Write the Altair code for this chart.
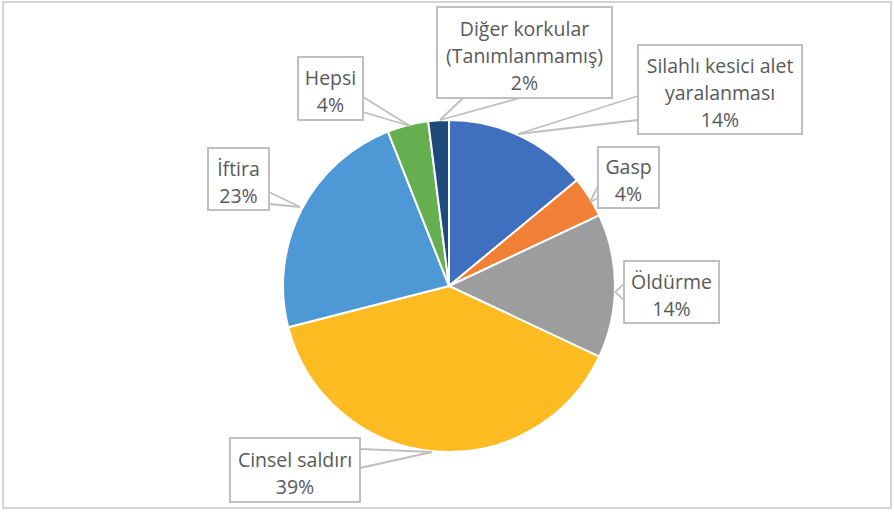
import altair as alt
import pandas as pd

# ---- data ----
categories = ["Silahlı kesici alet yaralanması", "Gasp", "Öldürme", "Cinsel saldırı",
              "İftira", "Hepsi", "Diğer korkular (Tanımlanmamış)"]
label_text = ["Silahlı kesici alet\nyaralanması", "Gasp", "Öldürme", "Cinsel saldırı",
              "İftira", "Hepsi", "Diğer korkular\n(Tanımlanmamış)"]
values = [14, 4, 14, 39, 23, 4, 2]
colors = ["#3F6FBF", "#F27F36", "#9B9D9F", "#FDBB22", "#4E98D6", "#65AF51", "#1E4A7C"]

# ---- layout of callout boxes (pixels) ----
box_left = [638, 598, 624, 230, 208, 298, 437]
box_top = [45, 147, 261, 438, 148, 57, 7]
box_right = [802, 659, 719, 360, 269, 363, 612]
box_bottom = [134, 208, 323, 502, 210, 120, 98]
tail_a = [(638, 96), (598, 186), (624, 284), (360, 449), (269, 192), (363, 97), (463, 98)]
tail_b = [(638, 120), (598, 198), (624, 300), (360, 468), (269, 204), (363, 112), (520, 98)]
tail_tip = [(518, 134), (590, 202), (615, 292), (432, 452), (300, 207), (410, 126), (440, 120)]

W, H = 894, 512
CX, CY, R = 449, 286, 166
LH = 27

pie_df = pd.DataFrame({
    "category": categories,
    "value": values,
    "idx": list(range(len(values))),
})

texts_full = [f"{t}\n{v}%" for t, v in zip(label_text, values)]
box_df = pd.DataFrame({
    "x": box_left, "x2": box_right, "y": box_top, "y2": box_bottom,
    "tx": [(a + b) / 2 for a, b in zip(box_left, box_right)],
    "ty": [(a + b) / 2 - (s.count("\n")) * LH / 2 for a, b, s in zip(box_top, box_bottom, texts_full)],
    "text": texts_full,
})

tail_rows = []
for a, b, t in zip(tail_a, tail_b, tail_tip):
    tail_rows.append({"x": a[0], "y": a[1], "x2": t[0], "y2": t[1]})
    tail_rows.append({"x": b[0], "y": b[1], "x2": t[0], "y2": t[1]})
tail_df = pd.DataFrame(tail_rows)

xs = alt.Scale(domain=[0, W], range=[0, W], nice=False, zero=False)
ys = alt.Scale(domain=[0, H], range=[0, H], nice=False, zero=False)

pie = alt.Chart(pie_df).mark_arc(outerRadius=R, stroke="white", strokeWidth=2).encode(
    theta=alt.Theta("value:Q", stack=True),
    order=alt.Order("idx:Q"),
    color=alt.Color("category:N", scale=alt.Scale(domain=categories, range=colors), legend=None),
    x=alt.value(CX),
    y=alt.value(CY),
)

tails = alt.Chart(tail_df).mark_rule(color="#BFBFBF", strokeWidth=1.8).encode(
    x=alt.X("x:Q", scale=xs, axis=None),
    y=alt.Y("y:Q", scale=ys, axis=None),
    x2="x2:Q",
    y2="y2:Q",
)

boxes = alt.Chart(box_df).mark_rect(fill="white", stroke="#BFBFBF", strokeWidth=2).encode(
    x=alt.X("x:Q", scale=xs, axis=None),
    x2="x2:Q",
    y=alt.Y("y:Q", scale=ys, axis=None),
    y2="y2:Q",
)

texts = alt.Chart(box_df).mark_text(
    font="Open Sans", fontSize=19.5, color="#595959", lineBreak="\n",
    lineHeight=LH, align="center", baseline="middle", dy=4,
).encode(
    x=alt.X("tx:Q", scale=xs, axis=None),
    y=alt.Y("ty:Q", scale=ys, axis=None),
    text="text:N",
)

border = alt.Chart(pd.DataFrame({"a": [0]})).mark_rect(
    fill=None, stroke="#D4D4D4", strokeWidth=2
).encode(x=alt.value(3), x2=alt.value(891), y=alt.value(2), y2=alt.value(508))

chart = alt.layer(border, pie, tails, boxes, texts).resolve_scale(
    theta="independent", color="independent"
).properties(
    width=W, height=H, autosize="none", padding=0, background="white"
).configure_view(stroke=None)

chart.save("out.html", embed_options={"renderer": "svg", "actions": False})
